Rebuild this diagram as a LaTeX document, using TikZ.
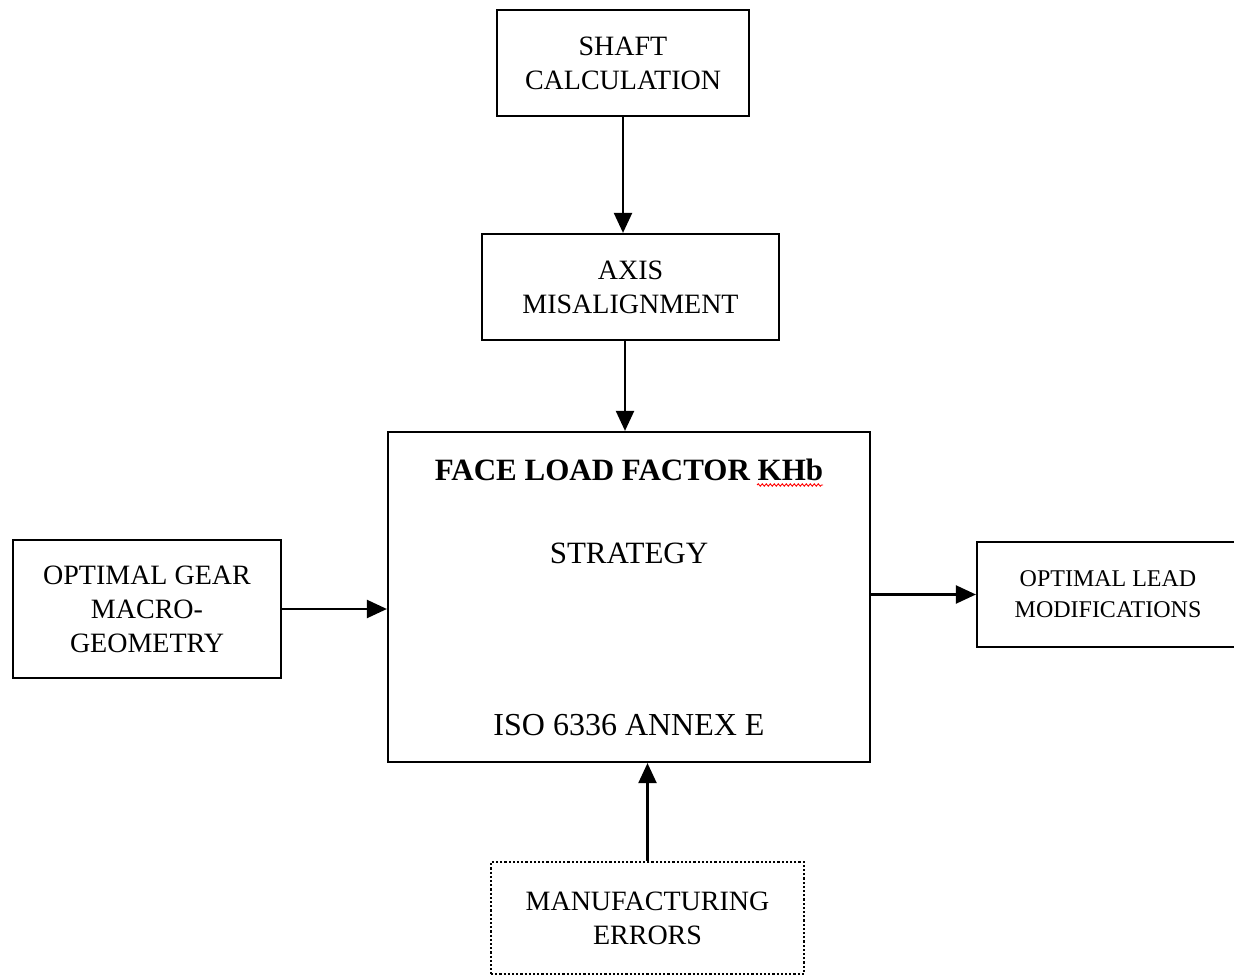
\documentclass[tikz,border=0pt]{standalone}
\usepackage{fontspec}
\setmainfont{Liberation Serif}
\usetikzlibrary{arrows.meta,decorations.pathmorphing}
\begin{document}
\begin{tikzpicture}[x=1pt,y=-1pt,
  box/.style={draw=black,line width=2.2pt,fill=white,inner sep=0pt,align=center,
    font=\fontsize{28}{34}\selectfont},
  dotbox/.style={box,dotted},
  txt/.style={inner sep=0pt,align=center},
  arr/.style={line width=2.2pt,-{Triangle[length=20pt,width=18pt]}}]
\useasboundingbox (0,0) rectangle (1234,976);
\node[box,minimum width=252pt,minimum height=106pt] (shaft) at (623,63) {SHAFT\\CALCULATION};
\node[box,minimum width=297pt,minimum height=106pt] (axis) at (630.5,287) {AXIS\\MISALIGNMENT};
\node[box,minimum width=482pt,minimum height=330pt] (main) at (629,597) {};
\node[txt,font=\fontsize{31}{34}\bfseries\selectfont] (title) at (629,470) {FACE LOAD FACTOR KHb};
\node[txt,font=\fontsize{31}{34}\selectfont] (strat) at (629,553) {STRATEGY};
\node[txt,font=\fontsize{32}{34}\selectfont] (iso) at (629,725) {ISO 6336 ANNEX E};
\node[box,minimum width=268pt,minimum height=138pt] (left) at (147,609) {OPTIMAL GEAR\\MACRO-\\GEOMETRY};
\node[box,minimum width=262pt,minimum height=105pt,font=\fontsize{24}{31}\selectfont] (right) at (1108,594.5) {OPTIMAL LEAD\\MODIFICATIONS};
\node[dotbox,minimum width=313pt,minimum height=112pt] (bottom) at (647.5,918) {MANUFACTURING\\ERRORS};
\coordinate (wavyA) at (757,485);
\coordinate (wavyB) at (823,485);
\draw[red,line width=0.9pt,decorate,decoration={snake,amplitude=1.2pt,segment length=4pt}] (wavyA) -- (wavyB);
\draw[arr] (shaft.south) -- (shaft.south |- axis.north);
\draw[arr] ([xshift=-5.5pt]axis.south) -- ([xshift=-5.5pt]axis.south |- main.north);
\draw[arr] (left.east) -- (left.east -| main.west);
\draw[arr] (right.west -| main.east) -- (right.west);
\draw[arr] (bottom.north) -- (bottom.north |- main.south);
\end{tikzpicture}
\end{document}
